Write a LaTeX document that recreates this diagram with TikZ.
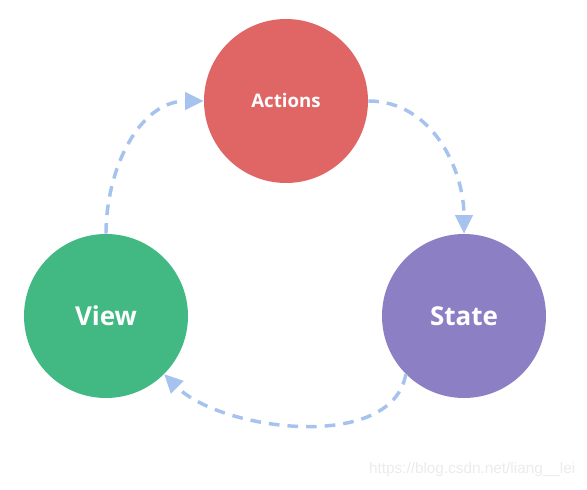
\documentclass[tikz,border=0pt]{standalone}
\usepackage{fontspec}
\setsansfont{Open Sans}
\newfontfamily\urlfont{Liberation Sans}
\usepackage{tikz}
\usetikzlibrary{arrows.meta}

\definecolor{actred}{HTML}{E06666}
\definecolor{viewgreen}{HTML}{42B983}
\definecolor{statepurple}{HTML}{8D7FC4}
\definecolor{flowblue}{HTML}{A6C2EE}

\begin{document}
\begin{tikzpicture}[x=0.75pt,y=0.75pt,
    >={Triangle[length=14pt,width=13pt]},
    part/.style={circle,minimum size=123pt,inner sep=0pt,text=white},
    flow/.style={->,draw=flowblue,line width=2.6pt,dash pattern=on 8pt off 6pt}]
  \useasboundingbox (0,0) rectangle (587,490);

  \node[part,fill=actred,font=\sffamily\bfseries\fontsize{14}{17}\selectfont] (A) at (286,389) {Actions};
  \node[part,fill=viewgreen,font=\sffamily\bfseries\fontsize{19.5}{24}\selectfont] (V) at (106,174) {View};
  \node[part,fill=statepurple,font=\sffamily\bfseries\fontsize{19.5}{24}\selectfont] (S) at (464,174) {State};

  \draw[flow] (V.north) to[out=90,in=180] (A.west);
  \draw[flow] (A.east) to[out=0,in=90] (S.north);
  \draw[flow] (S.225) to[out=-100,in=-45,looseness=0.85] (V.-45);

  \node[text=black!8,font=\urlfont\fontsize{11.5}{14}\selectfont,anchor=east] (url) at (580,20) {https://blog.csdn.net/liang\_\_lei};
\end{tikzpicture}
\end{document}
